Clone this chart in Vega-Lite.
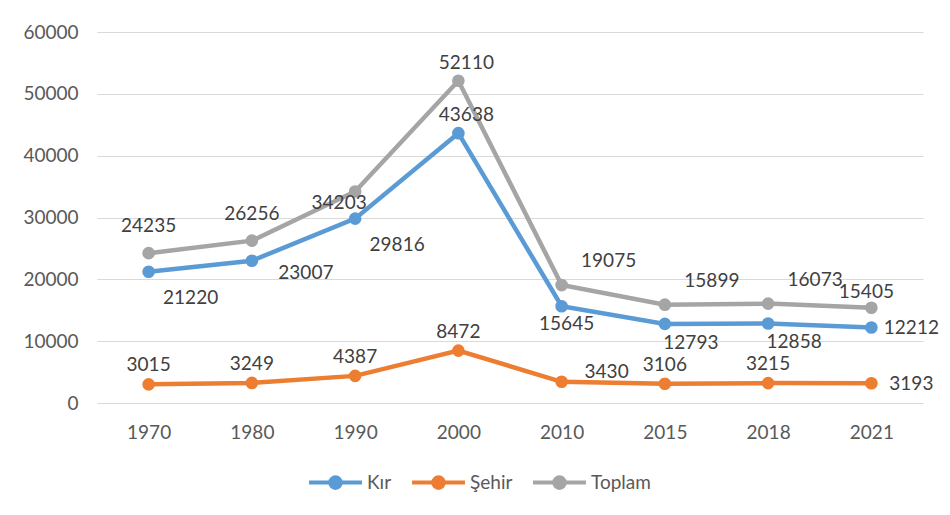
{
  "$schema": "https://vega.github.io/schema/vega-lite/v6.json",
  "width": 826,
  "height": 371,
  "autosize": "none",
  "padding": {"left": 97, "top": 32, "right": 27, "bottom": 112},
  "background": "white",
  "config": {
    "font": "Lato",
    "view": {"stroke": null},
    "axis": {"labelFont": "Lato", "labelFontSize": 19, "labelColor": "#595959", "ticks": false, "domain": false, "title": null},
    "legend": {"labelFont": "Lato", "labelFontSize": 19, "labelColor": "#595959"}
  },
  "data": {
    "values": [
      {"year": "1970", "series": "Kır", "value": 21220},
      {"year": "1980", "series": "Kır", "value": 23007},
      {"year": "1990", "series": "Kır", "value": 29816},
      {"year": "2000", "series": "Kır", "value": 43638},
      {"year": "2010", "series": "Kır", "value": 15645},
      {"year": "2015", "series": "Kır", "value": 12793},
      {"year": "2018", "series": "Kır", "value": 12858},
      {"year": "2021", "series": "Kır", "value": 12212},
      {"year": "1970", "series": "Şehir", "value": 3015},
      {"year": "1980", "series": "Şehir", "value": 3249},
      {"year": "1990", "series": "Şehir", "value": 4387},
      {"year": "2000", "series": "Şehir", "value": 8472},
      {"year": "2010", "series": "Şehir", "value": 3430},
      {"year": "2015", "series": "Şehir", "value": 3106},
      {"year": "2018", "series": "Şehir", "value": 3215},
      {"year": "2021", "series": "Şehir", "value": 3193},
      {"year": "1970", "series": "Toplam", "value": 24235},
      {"year": "1980", "series": "Toplam", "value": 26256},
      {"year": "1990", "series": "Toplam", "value": 34203},
      {"year": "2000", "series": "Toplam", "value": 52110},
      {"year": "2010", "series": "Toplam", "value": 19075},
      {"year": "2015", "series": "Toplam", "value": 15899},
      {"year": "2018", "series": "Toplam", "value": 16073},
      {"year": "2021", "series": "Toplam", "value": 15405}
    ]
  },
  "encoding": {
    "x": {"field": "year", "type": "ordinal", "scale": {"type": "point", "padding": 0.5}, "axis": {"labelAngle": 0, "labelPadding": 20, "grid": false}},
    "y": {"field": "value", "type": "quantitative", "scale": {"domain": [0, 60000]}, "axis": {"tickCount": 6, "format": "d", "labelPadding": 19, "gridColor": "#D9D9D9", "gridWidth": 1.2}}
  },
  "layer": [
    {
      "mark": {"type": "line", "strokeWidth": 4.5},
      "encoding": {
        "color": {
          "field": "series", "type": "nominal",
          "scale": {"domain": ["Kır", "Şehir", "Toplam"], "range": ["#5B9BD5", "#ED7D31", "#A5A5A5"]},
          "legend": {
            "orient": "none", "direction": "horizontal", "title": null,
            "legendX": 210, "legendY": 422,
            "symbolType": "M-1,0L1,0M-0.2,0A0.2,0.2,0,1,1,0.2,0A0.2,0.2,0,1,1,-0.2,0Z",
            "symbolSize": 2800, "symbolStrokeWidth": 4, "labelOffset": 3, "columnPadding": 12,
            "encode": {"symbols": {"update": {"fill": {"scale": "color", "field": "value"}, "stroke": {"scale": "color", "field": "value"}, "opacity": {"value": 1}}}}
          }
        }
      }
    },
    {
      "mark": {"type": "point", "filled": true, "size": 160, "opacity": 1},
      "encoding": {"color": {"field": "series", "type": "nominal", "legend": null}}
    },
    {
      "transform": [{"filter": "indexof(['Şehir|1970','Şehir|1980','Şehir|1990','Şehir|2000','Şehir|2015','Şehir|2018'], datum.series + '|' + datum.year) >= 0"}],
      "mark": {"type": "text", "fontSize": 19, "color": "#404040", "dx": 0, "dy": -19},
      "encoding": {"text": {"field": "value", "type": "quantitative", "format": "d"}}
    },
    {
      "transform": [{"filter": "indexof(['Toplam|1970','Toplam|1980'], datum.series + '|' + datum.year) >= 0"}],
      "mark": {"type": "text", "fontSize": 19, "color": "#404040", "dx": 0, "dy": -27},
      "encoding": {"text": {"field": "value", "type": "quantitative", "format": "d"}}
    },
    {
      "transform": [{"filter": "indexof(['Toplam|2000','Kır|2000'], datum.series + '|' + datum.year) >= 0"}],
      "mark": {"type": "text", "fontSize": 19, "color": "#404040", "dx": 8, "dy": -18},
      "encoding": {"text": {"field": "value", "type": "quantitative", "format": "d"}}
    },
    {
      "transform": [{"filter": "indexof(['Toplam|2010','Toplam|2015','Toplam|2018'], datum.series + '|' + datum.year) >= 0"}],
      "mark": {"type": "text", "fontSize": 19, "color": "#404040", "dx": 47, "dy": -24},
      "encoding": {"text": {"field": "value", "type": "quantitative", "format": "d"}}
    },
    {
      "transform": [{"filter": "indexof(['Toplam|2021'], datum.series + '|' + datum.year) >= 0"}],
      "mark": {"type": "text", "fontSize": 19, "color": "#404040", "dx": -5, "dy": -16},
      "encoding": {"text": {"field": "value", "type": "quantitative", "format": "d"}}
    },
    {
      "transform": [{"filter": "indexof(['Toplam|1990'], datum.series + '|' + datum.year) >= 0"}],
      "mark": {"type": "text", "fontSize": 19, "color": "#404040", "dx": -16, "dy": 11},
      "encoding": {"text": {"field": "value", "type": "quantitative", "format": "d"}}
    },
    {
      "transform": [{"filter": "indexof(['Kır|1970','Kır|1990'], datum.series + '|' + datum.year) >= 0"}],
      "mark": {"type": "text", "fontSize": 19, "color": "#404040", "dx": 42, "dy": 26},
      "encoding": {"text": {"field": "value", "type": "quantitative", "format": "d"}}
    },
    {
      "transform": [{"filter": "indexof(['Kır|1980'], datum.series + '|' + datum.year) >= 0"}],
      "mark": {"type": "text", "fontSize": 19, "color": "#404040", "dx": 54, "dy": 12},
      "encoding": {"text": {"field": "value", "type": "quantitative", "format": "d"}}
    },
    {
      "transform": [{"filter": "indexof(['Kır|2010'], datum.series + '|' + datum.year) >= 0"}],
      "mark": {"type": "text", "fontSize": 19, "color": "#404040", "dx": 5, "dy": 18},
      "encoding": {"text": {"field": "value", "type": "quantitative", "format": "d"}}
    },
    {
      "transform": [{"filter": "indexof(['Kır|2015','Kır|2018'], datum.series + '|' + datum.year) >= 0"}],
      "mark": {"type": "text", "fontSize": 19, "color": "#404040", "dx": 26, "dy": 19},
      "encoding": {"text": {"field": "value", "type": "quantitative", "format": "d"}}
    },
    {
      "transform": [{"filter": "indexof(['Kır|2021','Şehir|2021'], datum.series + '|' + datum.year) >= 0"}],
      "mark": {"type": "text", "fontSize": 19, "color": "#404040", "dx": 40, "dy": 1},
      "encoding": {"text": {"field": "value", "type": "quantitative", "format": "d"}}
    },
    {
      "transform": [{"filter": "indexof(['Şehir|2010'], datum.series + '|' + datum.year) >= 0"}],
      "mark": {"type": "text", "fontSize": 19, "color": "#404040", "dx": 45, "dy": -10},
      "encoding": {"text": {"field": "value", "type": "quantitative", "format": "d"}}
    }
  ]
}
